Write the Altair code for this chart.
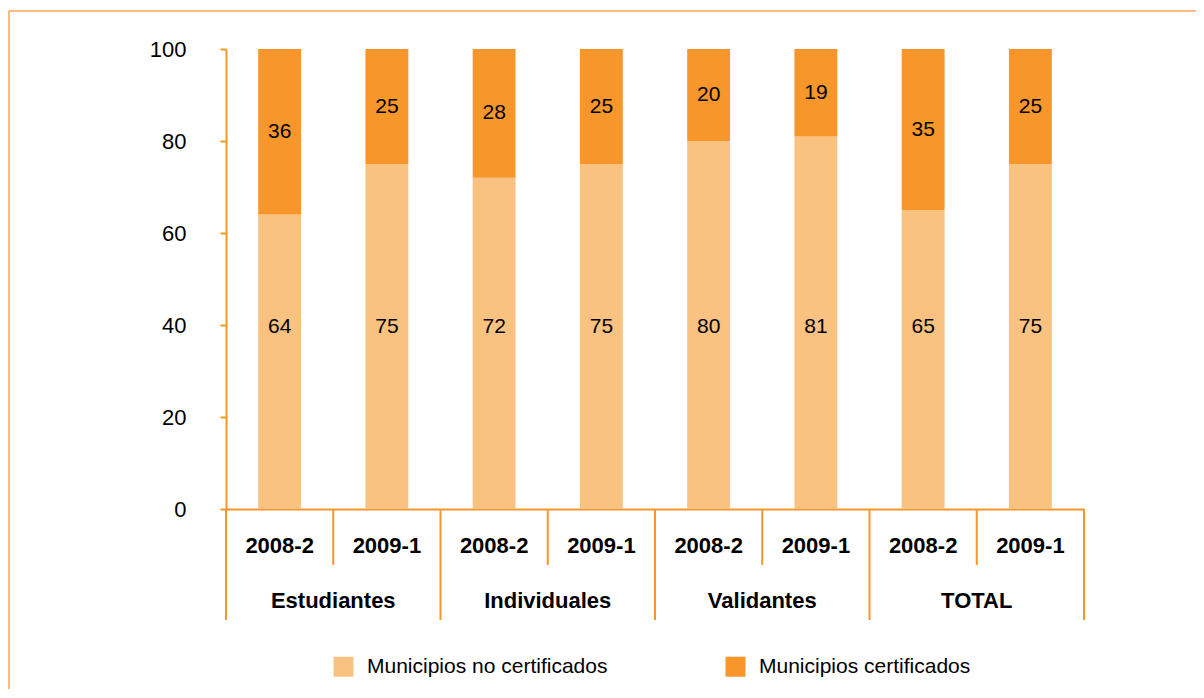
import altair as alt
import pandas as pd

groups = ["Estudiantes", "Individuales", "Validantes", "TOTAL"]
periods = ["2008-2", "2009-1"]
no_cert = [64, 75, 72, 75, 80, 81, 65, 75]
cert = [36, 25, 28, 25, 20, 19, 35, 25]
series = ["Municipios no certificados", "Municipios certificados"]
y_ticks = [0, 20, 40, 60, 80, 100]

ORANGE = "#F7962A"
LIGHT = "#FAC281"
FRAME = "#F8A45A"
FONT = "Liberation Sans"

rows = []
for i in range(len(no_cert)):
    g = groups[i // 2]
    p = periods[i % 2]
    rows.append(dict(i=i, x0=i + 0.3, x1=i + 0.7, xc=i + 0.5, group=g, period=p,
                     serie=series[0], y0=0, y1=no_cert[i], value=no_cert[i],
                     mid=no_cert[i] / 2))
    rows.append(dict(i=i, x0=i + 0.3, x1=i + 0.7, xc=i + 0.5, group=g, period=p,
                     serie=series[1], y0=no_cert[i], y1=no_cert[i] + cert[i],
                     value=cert[i], mid=no_cert[i] + cert[i] / 2))
df = pd.DataFrame(rows)

gdf = pd.DataFrame({"group": groups, "gc": [2 * k + 1 for k in range(len(groups))]})
short_sep = pd.DataFrame({"pos": [2 * k + 1 for k in range(len(groups))]})
long_sep = pd.DataFrame({"pos": [2 * k for k in range(len(groups) + 1)]})

xscale = alt.Scale(domain=[0, 8], nice=False, zero=False)
xaxis = alt.Axis(domain=True, domainColor=ORANGE, domainWidth=2, ticks=False,
                 labels=False, grid=False, title=None)
yscale = alt.Scale(domain=[0, 100], nice=False)
yaxis = alt.Axis(values=y_ticks, domain=True, domainColor=ORANGE, domainWidth=2,
                 ticks=True, tickColor=ORANGE, tickWidth=2, tickSize=6,
                 labelFontSize=22, labelFont=FONT, labelColor="black",
                 labelPadding=34, grid=False, title=None)

bars = alt.Chart(df).mark_bar(strokeWidth=0).encode(
    x=alt.X("x0:Q", scale=xscale, axis=xaxis),
    x2="x1:Q",
    y=alt.Y("y0:Q", scale=yscale, axis=yaxis),
    y2="y1:Q",
    color=alt.Color("serie:N",
                    scale=alt.Scale(domain=series, range=[LIGHT, ORANGE]),
                    legend=alt.Legend(orient="none", legendX=107, legendY=607,
                                      direction="horizontal", title=None,
                                      symbolType="square", symbolSize=400,
                                      symbolStrokeWidth=0, symbolOpacity=1,
                                      labelFontSize=21, labelLimit=500,
                                      labelFont=FONT, labelColor="black",
                                      labelOffset=13, columnPadding=117,
                                      padding=0)),
)

top_lbl = alt.Chart(df).transform_filter(
    alt.datum.serie == series[1]
).mark_text(fontSize=21, font=FONT, color="black", baseline="middle").encode(
    x=alt.X("xc:Q", scale=xscale, axis=xaxis),
    y=alt.Y("mid:Q", scale=yscale, axis=yaxis),
    text="value:Q",
)

low_lbl = alt.Chart(df).transform_filter(
    alt.datum.serie == series[0]
).mark_text(fontSize=21, font=FONT, color="black", baseline="middle").encode(
    x=alt.X("xc:Q", scale=xscale, axis=xaxis),
    y=alt.datum(39.5),
    text="value:Q",
)

year_lbl = alt.Chart(df).transform_filter(
    alt.datum.serie == series[0]
).mark_text(fontSize=22, font=FONT, fontWeight="bold", color="black",
            baseline="middle").encode(
    x=alt.X("xc:Q", scale=xscale, axis=xaxis),
    y=alt.value(497),
    text="period:N",
)

group_lbl = alt.Chart(gdf).mark_text(fontSize=22, font=FONT, fontWeight="bold",
                                     color="black", baseline="middle").encode(
    x=alt.X("gc:Q", scale=xscale, axis=xaxis),
    y=alt.value(552),
    text="group:N",
)

short_rules = alt.Chart(short_sep).mark_rule(color=ORANGE, strokeWidth=2).encode(
    x=alt.X("pos:Q", scale=xscale, axis=xaxis),
    y=alt.value(460),
    y2=alt.value(516),
)

long_rules = alt.Chart(long_sep).mark_rule(color=ORANGE, strokeWidth=2).encode(
    x=alt.X("pos:Q", scale=xscale, axis=xaxis),
    y=alt.value(460),
    y2=alt.value(571),
)

frame_data = alt.Data(values=[{"k": 1}])
frame_left = alt.Chart(frame_data).mark_rule(color=FRAME, strokeWidth=1.5).encode(
    x=alt.value(-217), y=alt.value(-38), y2=alt.value(645),
)
frame_top = alt.Chart(frame_data).mark_rule(color=FRAME, strokeWidth=1.5).encode(
    x=alt.value(-217), x2=alt.value(975), y=alt.value(-38),
)

chart = alt.layer(
    frame_left, frame_top, bars, top_lbl, low_lbl, year_lbl, group_lbl,
    short_rules, long_rules,
).properties(
    width=858,
    height=460,
    autosize=alt.AutoSizeParams(type="none"),
    padding={"left": 218, "top": 41, "right": 112, "bottom": 180},
    background="white",
).configure_view(stroke=None)

chart.save("out.html", embed_options={"renderer": "svg", "actions": False})
